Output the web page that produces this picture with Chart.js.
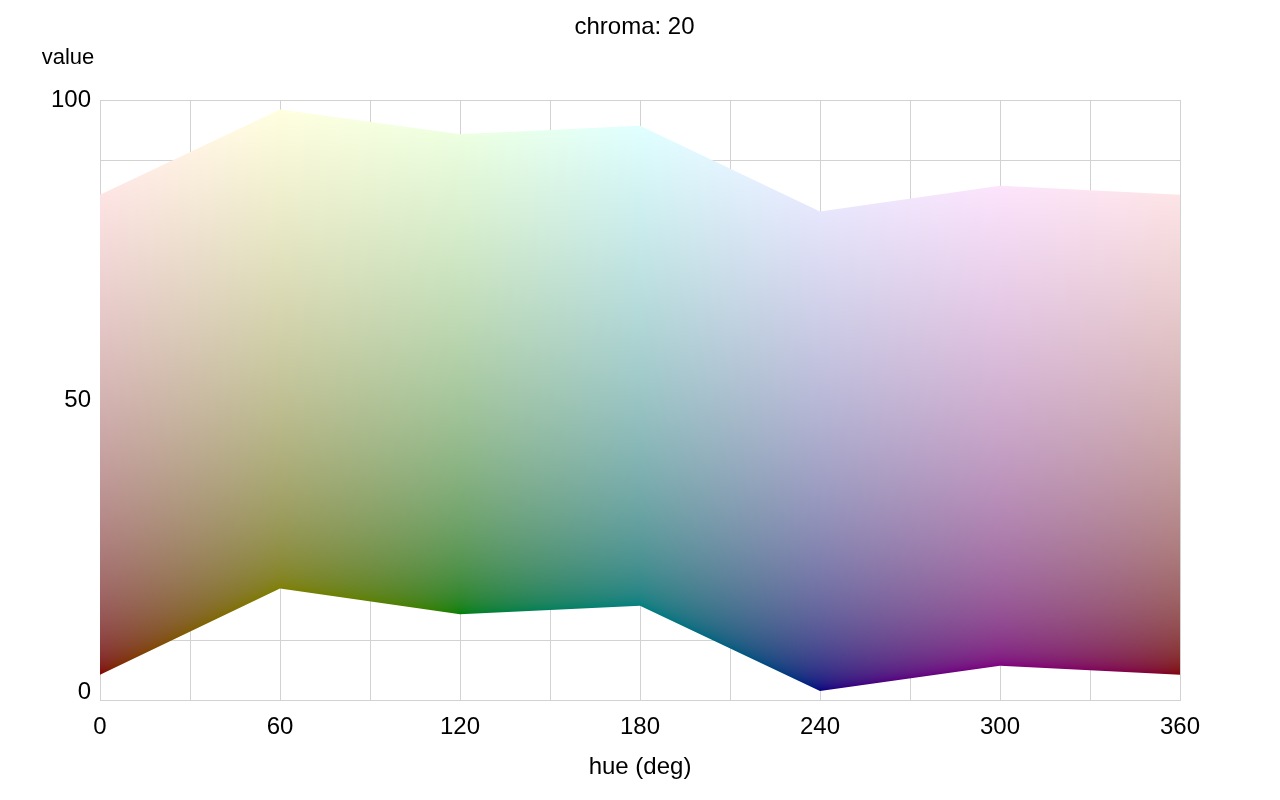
<!DOCTYPE html>
<html><head><meta charset="utf-8">
<script src="https://cdn.jsdelivr.net/npm/chart.js@4/dist/chart.umd.min.js"></script>
<style>html,body{margin:0;padding:0;background:#fff}</style>
</head><body>
<canvas id="c" width="1280" height="800"></canvas>
<script>
// ---- data ----
const hues = [0, 60, 120, 180, 240, 300, 360];
const upperValues = [84.2, 98.4, 94.3, 95.7, 81.4, 85.7, 84.2];
const lowerValues = [4.2, 18.6, 14.3, 15.7, 1.5, 5.7, 4.2];
const xTickLabels = ['0', '60', '120', '180', '240', '300', '360'];
const yTickLabels = ['0', '50', '100'];
const chartTitle = 'chroma: 20';
const xTitle = 'hue (deg)';
const yTitle = 'value';
// vertex colours (bottom edge / top edge) per hue
const lowColors = ['#800000', '#808000', '#008000', '#008080', '#000080', '#800080', '#800000'];
const highColors = ['#fde4e4', '#ffffe0', '#ecffe0', '#e0ffff', '#e6e6fc', '#fce4fc', '#fde4e6'];

const FONT = '"Liberation Sans", Arial, sans-serif';
Chart.defaults.color = '#000';
Chart.defaults.font.family = FONT;
Chart.defaults.font.size = 24;

function toLin(c) { c /= 255; return c <= 0.04045 ? c / 12.92 : Math.pow((c + 0.055) / 1.055, 2.4); }
function toSrgb(c) { c = Math.max(0, Math.min(1, c)); return 255 * (c <= 0.0031308 ? c * 12.92 : 1.055 * Math.pow(c, 1 / 2.4) - 0.055); }
function hexLin(h) { return [1, 3, 5].map(i => toLin(parseInt(h.substr(i, 2), 16))); }
const lowLin = lowColors.map(hexLin), highLin = highColors.map(hexLin);

let cache = null;
function fillPattern(context) {
  const chart = context.chart;
  const area = chart.chartArea;
  const xs = chart.scales.x, ys = chart.scales.y;
  if (!area || !xs || !ys || !(area.right > area.left)) return 'rgba(0,0,0,0)';
  const key = [area.left, area.top, area.right, area.bottom].join(',');
  if (cache && cache.key === key) return cache.pattern;
  const off = document.createElement('canvas');
  off.width = chart.width; off.height = chart.height;
  const octx = off.getContext('2d');
  const L = Math.floor(area.left), T = Math.floor(area.top);
  const W = Math.ceil(area.right) - L + 1, H = Math.ceil(area.bottom) - T + 1;
  const img = octx.createImageData(W, H);
  const d = img.data;
  for (let px = 0; px < W; px++) {
    let h = xs.getValueForPixel(L + px + 0.5);
    h = Math.max(hues[0], Math.min(hues[hues.length - 1], h));
    let i = 0;
    while (i < hues.length - 2 && h > hues[i + 1]) i++;
    const t = (h - hues[i]) / (hues[i + 1] - hues[i]);
    const lo = lowerValues[i] + (lowerValues[i + 1] - lowerValues[i]) * t;
    const hi = upperValues[i] + (upperValues[i + 1] - upperValues[i]) * t;
    const cb = [0, 1, 2].map(k => lowLin[i][k] + (lowLin[i + 1][k] - lowLin[i][k]) * t);
    const ct = [0, 1, 2].map(k => highLin[i][k] + (highLin[i + 1][k] - highLin[i][k]) * t);
    for (let py = 0; py < H; py++) {
      const v = ys.getValueForPixel(T + py + 0.5);
      let s = (v - lo) / (hi - lo);
      s = Math.max(0, Math.min(1, s));
      const o = (py * W + px) * 4;
      for (let k = 0; k < 3; k++) d[o + k] = Math.round(toSrgb(cb[k] + (ct[k] - cb[k]) * s));
      d[o + 3] = 255;
    }
  }
  octx.putImageData(img, L, T);
  const pattern = chart.ctx.createPattern(off, 'no-repeat');
  cache = { key, pattern };
  return pattern;
}

const yTitlePlugin = {
  id: 'yTitleText',
  afterDraw(chart) {
    const ctx = chart.ctx, a = chart.chartArea;
    ctx.save();
    ctx.font = '22px ' + FONT;
    ctx.fillStyle = '#000';
    ctx.textAlign = 'center';
    ctx.textBaseline = 'middle';
    ctx.fillText(yTitle, a.left - 32, a.top - 42);
    ctx.restore();
  }
};

const GRID = '#d2d2d2';
new Chart(document.getElementById('c'), {
  type: 'line',
  data: {
    datasets: [
      {
        label: 'lower',
        data: hues.map((h, i) => ({ x: h, y: lowerValues[i] })),
        borderWidth: 0, pointRadius: 0, fill: false,
        borderColor: 'rgba(0,0,0,0)', tension: 0
      },
      {
        label: 'upper',
        data: hues.map((h, i) => ({ x: h, y: upperValues[i] })),
        borderWidth: 0, pointRadius: 0, fill: '-1',
        borderColor: 'rgba(0,0,0,0)', backgroundColor: fillPattern, tension: 0
      }
    ]
  },
  options: {
    responsive: false,
    animation: false,
    devicePixelRatio: 1,
    layout: { padding: { left: 0, right: 11, top: 0, bottom: 0 } },
    plugins: {
      legend: { display: false },
      tooltip: { enabled: false },
      title: {
        display: true, text: chartTitle, color: '#000',
        font: { size: 24, weight: 'normal', family: FONT, lineHeight: 1.2 },
        padding: { top: 13, bottom: 58.2 }
      }
    },
    scales: {
      x: {
        type: 'linear', min: 0, max: 360,
        afterFit(s) { s.height = 100; },
        grid: { color: GRID, drawTicks: false, lineWidth: 1 },
        border: { color: GRID },
        ticks: {
          stepSize: 30, autoSkip: false, maxRotation: 0, padding: 13,
          font: { size: 24, lineHeight: 1.2 },
          callback: v => xTickLabels.includes(String(v)) ? String(v) : ''
        },
        title: {
          display: true, text: xTitle, color: '#000',
          font: { size: 24, lineHeight: 1.2 },
          padding: { top: 0, bottom: 18 }
        }
      },
      y: {
        type: 'linear', min: 0, max: 100,
        afterFit(s) { s.width = 100; },
        grid: { color: GRID, drawTicks: false, lineWidth: 1 },
        border: { color: GRID },
        ticks: {
          stepSize: 10, autoSkip: false, padding: 9,
          font: (ctx) => ({ size: 24, lineHeight: (ctx.tick && ctx.tick.value === 0) ? 0.67 : 1.2 }),
          callback: v => {
            const s = String(v);
            if (!yTickLabels.includes(s)) return '';
            return v === 0 ? [s, ''] : s;
          }
        }
      },
      yRight: {
        type: 'linear', position: 'right', min: 0, max: 100,
        afterFit(s) { s.width = 89; },
        grid: { display: false, drawTicks: false },
        border: { display: false },
        ticks: { display: false }
      }
    }
  },
  plugins: [yTitlePlugin]
});
</script>
</body></html>
